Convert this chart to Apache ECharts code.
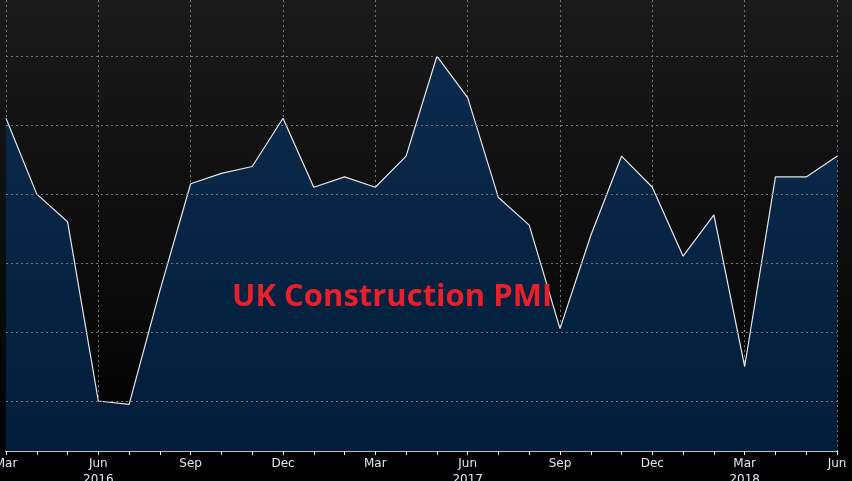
<!DOCTYPE html>
<html>
<head>
<meta charset="utf-8">
<title>UK Construction PMI</title>
<script src="https://cdn.jsdelivr.net/npm/echarts@6/dist/echarts.min.js"></script>
<style>html,body{margin:0;background:#000;}</style>
</head>
<body>
<div id="main" style="width:852px;height:481px;"></div>
<script>
var months = ['Mar','Apr','May','Jun','Jul','Aug','Sep','Oct','Nov','Dec',
  'Jan','Feb','Mar','Apr','May','Jun','Jul','Aug','Sep','Oct','Nov','Dec',
  'Jan','Feb','Mar','Apr','May','Jun'];
var years = {3: '2016', 15: '2017', 24: '2018'};
var pmi = [54.2, 52.0, 51.2, 46.0, 45.9, 49.2, 52.3, 52.6, 52.8, 54.2,
  52.2, 52.5, 52.2, 53.1, 56.0, 54.8, 51.9, 51.1, 48.1, 50.8, 53.1, 52.2,
  50.2, 51.4, 47.0, 52.5, 52.5, 53.1];
var gridValues = [46, 48, 50, 52, 54, 56];

var chart = echarts.init(document.getElementById('main'));
chart.setOption({
  backgroundColor: {type: 'linear', x: 0, y: 0, x2: 0, y2: 1, colorStops: [
    {offset: 0, color: '#1a1a1a'}, {offset: 1, color: '#000000'}]},
  grid: {left: 6, right: 15, top: 0, bottom: 30, containLabel: false, outerBoundsMode: 'none'},
  xAxis: {
    type: 'category', data: months, boundaryGap: false,
    axisLine: {lineStyle: {color: '#ffffff', width: 1.5}},
    axisTick: {show: true, interval: 0, length: 4, lineStyle: {color: '#ffffff'}},
    axisLabel: {interval: 2, color: '#dde8f5', fontFamily: 'DejaVu Sans', fontSize: 12,
      margin: 5, lineHeight: 16, hideOverlap: false,
      formatter: function (v, i) { return years[i] ? v + '\n' + years[i] : v; }},
    splitLine: {show: true, interval: 2, lineStyle: {color: '#6a7a8a', type: [2, 3]}}
  },
  yAxis: {
    type: 'value', min: 44.55, max: 57.63,
    axisLine: {show: false}, axisTick: {show: false}, axisLabel: {show: false},
    splitLine: {show: false}
  },
  series: [{
    type: 'line', data: pmi, symbol: 'none',
    lineStyle: {color: '#e8e8e8', width: 1.2},
    areaStyle: {color: {type: 'linear', x: 0, y: 0, x2: 0, y2: 1, colorStops: [
      {offset: 0, color: '#0c2a4c'}, {offset: 1, color: '#011d3a'}]}, opacity: 1},
    markLine: {
      silent: true, symbol: 'none', label: {show: false},
      lineStyle: {color: '#6a7a8a', type: [2, 3], width: 1},
      data: gridValues.map(function (v) { return {yAxis: v}; })
    }
  }]
});
chart.setOption({
  graphic: [{type: 'text', left: 232, top: 282, z: 100, style: {
    text: 'UK Construction PMI', fill: '#e8202a',
    fontSize: 31, fontWeight: 'bold', fontFamily: 'Open Sans'}}]
});
</script>
</body>
</html>
